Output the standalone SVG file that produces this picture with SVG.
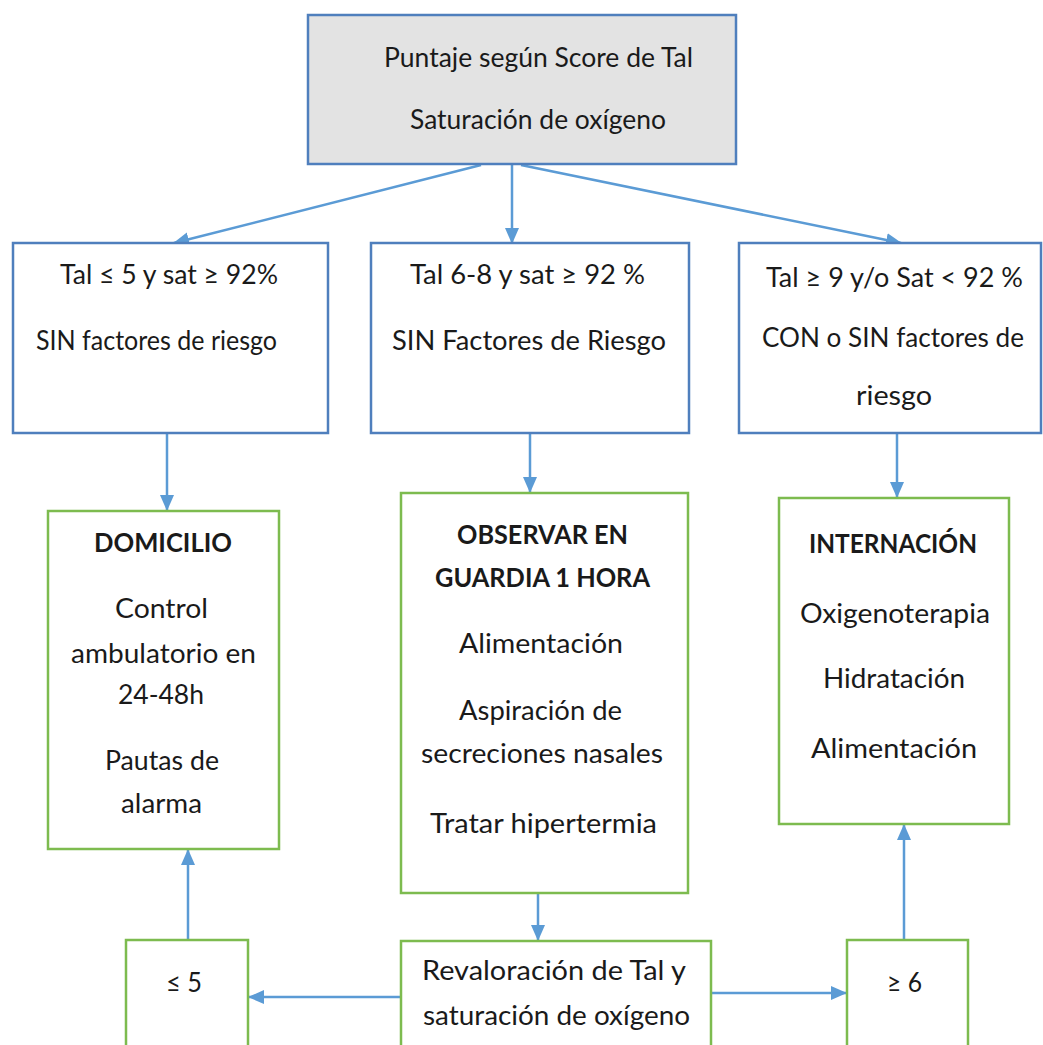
<svg xmlns="http://www.w3.org/2000/svg" width="1043" height="1045" viewBox="0 0 1043 1045">
  <style>
    .bb { fill: #ffffff; stroke: #4f7fbd; stroke-width: 2.5; }
    .top { fill: #e3e3e3; stroke: #4f7fbd; stroke-width: 2.5; }
    .gb { fill: #ffffff; stroke: #7dbb4f; stroke-width: 2.5; }
    text { font-family: Lato, "Open Sans", "Liberation Sans", sans-serif; font-size: 27px; fill: #1a1a1a; }
    .b { font-weight: bold; }
    .c { fill: none; stroke: #5b9bd5; stroke-width: 2.5; marker-end: url(#ah); }
  </style>
  <defs>
    <marker id="ah" markerUnits="userSpaceOnUse" markerWidth="16" markerHeight="16" viewBox="0 0 16 16" refX="15" refY="8" orient="auto">
      <path d="M0,1 L16,8 L0,15 Z" fill="#5b9bd5"/>
    </marker>
  </defs>
  <rect width="1043" height="1045" fill="#ffffff"/>

  <g id="connectors">
    <line class="c" x1="481" y1="165" x2="174" y2="243"/>
    <line class="c" x1="512" y1="165" x2="512" y2="243"/>
    <line class="c" x1="521" y1="165" x2="901" y2="243"/>
    <line class="c" x1="167" y1="434" x2="167" y2="510"/>
    <line class="c" x1="530" y1="434" x2="530" y2="492"/>
    <line class="c" x1="897" y1="434" x2="897" y2="497"/>
    <line class="c" x1="538" y1="894" x2="538" y2="940"/>
    <line class="c" x1="401" y1="997" x2="249" y2="997"/>
    <line class="c" x1="711" y1="993" x2="846" y2="993"/>
    <line class="c" x1="188" y1="940" x2="188" y2="850"/>
    <line class="c" x1="904" y1="940" x2="904" y2="825"/>
  </g>

  <g id="n-top">
    <rect class="top" x="308" y="15" width="428" height="149"/>
    <text x="384" y="67" textLength="309" lengthAdjust="spacingAndGlyphs">Puntaje según Score de Tal</text>
    <text x="410" y="129" textLength="256" lengthAdjust="spacingAndGlyphs">Saturación de oxígeno</text>
  </g>

  <g id="n-l2-left">
    <rect class="bb" x="13" y="243" width="315" height="190"/>
    <text x="60" y="284" textLength="218" lengthAdjust="spacingAndGlyphs">Tal  ≤ 5 y sat ≥ 92%</text>
    <text x="36" y="350" textLength="241" lengthAdjust="spacingAndGlyphs">SIN factores de riesgo</text>
  </g>

  <g id="n-l2-mid">
    <rect class="bb" x="371" y="243" width="318" height="190"/>
    <text x="410" y="284" textLength="235" lengthAdjust="spacingAndGlyphs">Tal  6-8 y sat ≥ 92 %</text>
    <text x="392" y="350" textLength="274" lengthAdjust="spacingAndGlyphs">SIN Factores de Riesgo</text>
  </g>

  <g id="n-l2-right">
    <rect class="bb" x="739" y="243" width="302" height="190"/>
    <text x="766" y="287" textLength="257" lengthAdjust="spacingAndGlyphs">Tal  ≥ 9 y/o Sat &lt; 92 %</text>
    <text x="762" y="347" textLength="262" lengthAdjust="spacingAndGlyphs">CON  o SIN factores de</text>
    <text x="856" y="405" textLength="76" lengthAdjust="spacingAndGlyphs">riesgo</text>
  </g>

  <g id="n-domicilio">
    <rect class="gb" x="48" y="511" width="231" height="338"/>
    <text class="b" x="94" y="552" textLength="138" lengthAdjust="spacingAndGlyphs">DOMICILIO</text>
    <text x="115" y="618" textLength="93" lengthAdjust="spacingAndGlyphs">Control</text>
    <text x="71" y="663" textLength="185" lengthAdjust="spacingAndGlyphs">ambulatorio en</text>
    <text x="118" y="704" textLength="86" lengthAdjust="spacingAndGlyphs">24-48h</text>
    <text x="105" y="770" textLength="114" lengthAdjust="spacingAndGlyphs">Pautas de</text>
    <text x="121" y="813" textLength="81" lengthAdjust="spacingAndGlyphs">alarma</text>
  </g>

  <g id="n-observar">
    <rect class="gb" x="401" y="493" width="287" height="400"/>
    <text class="b" x="457" y="544" textLength="171" lengthAdjust="spacingAndGlyphs">OBSERVAR EN</text>
    <text class="b" x="435" y="587" textLength="215" lengthAdjust="spacingAndGlyphs">GUARDIA 1 HORA</text>
    <text x="459" y="653" textLength="164" lengthAdjust="spacingAndGlyphs">Alimentación</text>
    <text x="459" y="720" textLength="163" lengthAdjust="spacingAndGlyphs">Aspiración de</text>
    <text x="421" y="763" textLength="242" lengthAdjust="spacingAndGlyphs">secreciones nasales</text>
    <text x="430" y="833" textLength="227" lengthAdjust="spacingAndGlyphs">Tratar hipertermia</text>
  </g>

  <g id="n-internacion">
    <rect class="gb" x="779" y="498" width="230" height="326"/>
    <text class="b" x="809" y="553" textLength="168" lengthAdjust="spacingAndGlyphs">INTERNACIÓN</text>
    <text x="800" y="623" textLength="190" lengthAdjust="spacingAndGlyphs">Oxigenoterapia</text>
    <text x="823" y="688" textLength="142" lengthAdjust="spacingAndGlyphs">Hidratación</text>
    <text x="811" y="758" textLength="166" lengthAdjust="spacingAndGlyphs">Alimentación</text>
  </g>

  <g id="n-le5">
    <rect class="gb" x="126" y="940" width="122" height="130"/>
    <text x="166" y="992" textLength="36" lengthAdjust="spacingAndGlyphs">≤ 5</text>
  </g>

  <g id="n-revaloracion">
    <rect class="gb" x="401" y="941" width="310" height="130"/>
    <text x="422" y="980" textLength="264" lengthAdjust="spacingAndGlyphs">Revaloración de Tal  y</text>
    <text x="423" y="1025" textLength="267" lengthAdjust="spacingAndGlyphs">saturación de oxígeno</text>
  </g>

  <g id="n-ge6">
    <rect class="gb" x="847" y="940" width="121" height="130"/>
    <text x="887" y="992" textLength="35" lengthAdjust="spacingAndGlyphs">≥ 6</text>
  </g>
</svg>
